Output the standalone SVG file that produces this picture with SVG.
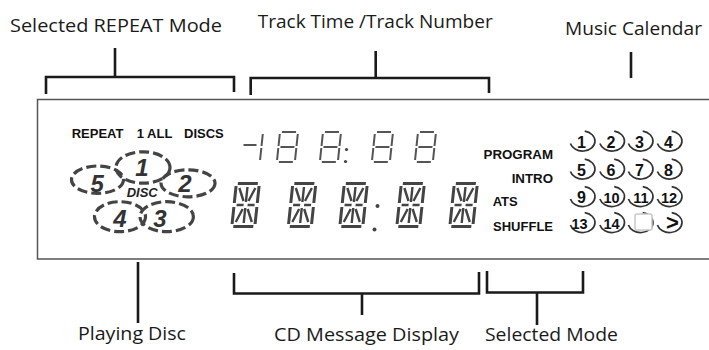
<svg xmlns="http://www.w3.org/2000/svg" width="709" height="350" viewBox="0 0 709 350">
<style>
.lbl{font-family:"Open Sans","Liberation Sans",sans-serif;font-size:19px;font-weight:500;fill:#1a1a1a}
.br{fill:none;stroke:#1a1a1a;stroke-width:2.6}
.lcd{font-family:"Liberation Sans",Arial,sans-serif;font-weight:bold;fill:#111;font-size:13px}
.num{font-family:"Liberation Sans",Arial,sans-serif;font-weight:bold;fill:#111;font-size:16px;text-anchor:middle}
.num2{font-family:"Liberation Sans",Arial,sans-serif;font-weight:bold;fill:#111;font-size:14.5px;text-anchor:middle}
.dn{font-family:"Liberation Sans",Arial,sans-serif;font-weight:bold;font-style:italic;fill:#333;font-size:24px;text-anchor:middle}
.seg7{fill:none;stroke:#555;stroke-width:2}
.s16a{fill:none;stroke:#444;stroke-width:3}
.s16b{fill:none;stroke:#444;stroke-width:2.4}
.disc{fill:none;stroke:#444;stroke-width:3.2;stroke-dasharray:10 4}
.cal{fill:none;stroke:#333;stroke-width:1.7}
.dot{fill:#444}
</style>
<defs>
<path id="d7" class="seg7" d="M2,0 H16 M18,2 V14 M18,16 V28 M2,30 H16 M0,16 V28 M0,2 V14 M2,15 H16"/>
<g id="d16">
<path class="s16a" d="M3,1.5 H23 M3,44.5 H23 M1.5,4 V21 M1.5,25 V42 M24.5,4 V21 M24.5,25 V42"/>
<path class="s16b" d="M13,5 V20 M13,26 V41 M4,23 H11 M15,23 H22 M5,6 L10.5,19 M21,6 L15.5,19 M10.5,27 L5,40 M15.5,27 L21,40"/>
</g>
<path id="arc" class="cal" d="M2.2,-9.8 A12.5 10 0 1 1 -12.1,2.6"/>
</defs>

<g id="panel">
<rect x="37.5" y="99.5" width="690" height="159.5" fill="none" stroke="#555" stroke-width="1.5"/>
</g>

<g id="connectors">
<path class="br" d="M46,94 V77 H234 V92 M115,48 V77"/>
<path class="br" d="M250.7,95 V78 H489 V93 M375.7,51 V78"/>
<path class="br" d="M631,52 V78"/>
<path class="br" d="M138,262 V323"/>
<path class="br" d="M234,273 V293.5 H479 V272 M362,293.5 V315"/>
<path class="br" d="M487,271 V292.5 H583 V271 M537,292.5 V325"/>
</g>

<g id="label-repeat-mode"><text class="lbl" x="10" y="32" textLength="212" lengthAdjust="spacingAndGlyphs">Selected REPEAT Mode</text></g>
<g id="label-track-time"><text class="lbl" x="257.7" y="28" textLength="235" lengthAdjust="spacingAndGlyphs">Track Time /Track Number</text></g>
<g id="label-music-calendar"><text class="lbl" x="565" y="35" textLength="137" lengthAdjust="spacingAndGlyphs">Music Calendar</text></g>
<g id="label-playing-disc"><text class="lbl" x="78" y="339.5" textLength="108" lengthAdjust="spacingAndGlyphs">Playing Disc</text></g>
<g id="label-cd-message"><text class="lbl" x="274" y="341" textLength="185" lengthAdjust="spacingAndGlyphs">CD Message Display</text></g>
<g id="label-selected-mode"><text class="lbl" x="485" y="341" textLength="133" lengthAdjust="spacingAndGlyphs">Selected Mode</text></g>

<g id="repeat-indicators">
<text class="lcd" x="71.7" y="137.7">REPEAT</text>
<text class="lcd" x="136.7" y="137.7">1 ALL</text>
<text class="lcd" x="184" y="137.7">DISCS</text>
</g>

<g id="disc-indicators">
<ellipse class="disc" cx="143" cy="167.5" rx="27" ry="15.7"/>
<ellipse class="disc" cx="97.5" cy="179.7" rx="26" ry="13.7"/>
<ellipse class="disc" cx="188" cy="183.3" rx="27" ry="13.5"/>
<ellipse class="disc" cx="120" cy="216.7" rx="25.5" ry="15"/>
<ellipse class="disc" cx="166.7" cy="216.7" rx="26.7" ry="15"/>
<text class="dn" x="142" y="176">1</text>
<text class="dn" x="97.3" y="192">5</text>
<text class="dn" x="185" y="192">2</text>
<text class="dn" x="120" y="227">4</text>
<text class="dn" x="160" y="227">3</text>
<text x="126.7" y="197.3" textLength="31" lengthAdjust="spacingAndGlyphs" style="font-family:'Liberation Sans',Arial,sans-serif;font-weight:bold;font-style:italic;font-size:12.5px;fill:#222">DISC</text>
</g>

<g id="time-display">
<path class="seg7" d="M243.5,145 H256.5"/>
<path class="seg7" transform="translate(263,132) skewX(-6)" d="M0,2 V14 M0,16 V28"/>
<use href="#d7" transform="translate(280,132) skewX(-6)"/>
<use href="#d7" transform="translate(323,132) skewX(-6)"/>
<circle class="dot" cx="346.5" cy="149.5" r="1.6"/>
<circle class="dot" cx="345.5" cy="161.5" r="1.6"/>
<use href="#d7" transform="translate(375,132) skewX(-6)"/>
<use href="#d7" transform="translate(418,132) skewX(-6)"/>
</g>

<g id="message-display">
<use href="#d16" transform="translate(235,182) skewX(-6)"/>
<use href="#d16" transform="translate(291.5,182) skewX(-6)"/>
<use href="#d16" transform="translate(343,182) skewX(-6)"/>
<circle class="dot" cx="377.5" cy="206" r="2"/>
<circle class="dot" cx="374.5" cy="229.5" r="2"/>
<use href="#d16" transform="translate(400,182) skewX(-6)"/>
<use href="#d16" transform="translate(453,182) skewX(-6)"/>
</g>

<g id="mode-indicators">
<text class="lcd" x="553" y="159.3" text-anchor="end" style="font-size:13.3px">PROGRAM</text>
<text class="lcd" x="553" y="182.7" text-anchor="end" style="font-size:13.3px">INTRO</text>
<text class="lcd" x="492.7" y="206" style="font-size:13px">ATS</text>
<text class="lcd" x="553" y="231" text-anchor="end" style="font-size:13px">SHUFFLE</text>
</g>

<g id="music-calendar">
<use href="#arc" x="582.5" y="141"/><text class="num" x="581.5" y="147.5">1</text>
<use href="#arc" x="612" y="141"/><text class="num" x="611" y="147.5">2</text>
<use href="#arc" x="640.5" y="141"/><text class="num" x="639.5" y="147.5">3</text>
<use href="#arc" x="669.5" y="141"/><text class="num" x="668.5" y="147.5">4</text>
<use href="#arc" x="582.5" y="169"/><text class="num" x="581.5" y="175.5">5</text>
<use href="#arc" x="612" y="169"/><text class="num" x="611" y="175.5">6</text>
<use href="#arc" x="640.5" y="169"/><text class="num" x="639.5" y="175.5">7</text>
<use href="#arc" x="669.5" y="169"/><text class="num" x="668.5" y="175.5">8</text>
<use href="#arc" x="582.5" y="196.5"/><text class="num" x="581.5" y="203">9</text>
<use href="#arc" x="612" y="196.5"/><text class="num2" x="611.5" y="202.5">10</text>
<use href="#arc" x="640.5" y="196.5"/><text class="num2" x="641" y="202.5">11</text>
<use href="#arc" x="669.5" y="196.5"/><text class="num2" x="669" y="202.5">12</text>
<use href="#arc" x="582.5" y="222.5"/><text class="num2" x="579.5" y="228.5">13</text>
<use href="#arc" x="612" y="222.5"/><text class="num2" x="611.5" y="228.5">14</text>
<use href="#arc" x="640.5" y="222.5"/><rect x="635" y="214" width="17" height="16" rx="2" fill="#fff" stroke="#c8c8c8" stroke-width="1.5"/>
<use href="#arc" x="669.5" y="222.5"/><text class="num" x="672.5" y="230" style="font-size:22px">&gt;</text>
</g>
</svg>
